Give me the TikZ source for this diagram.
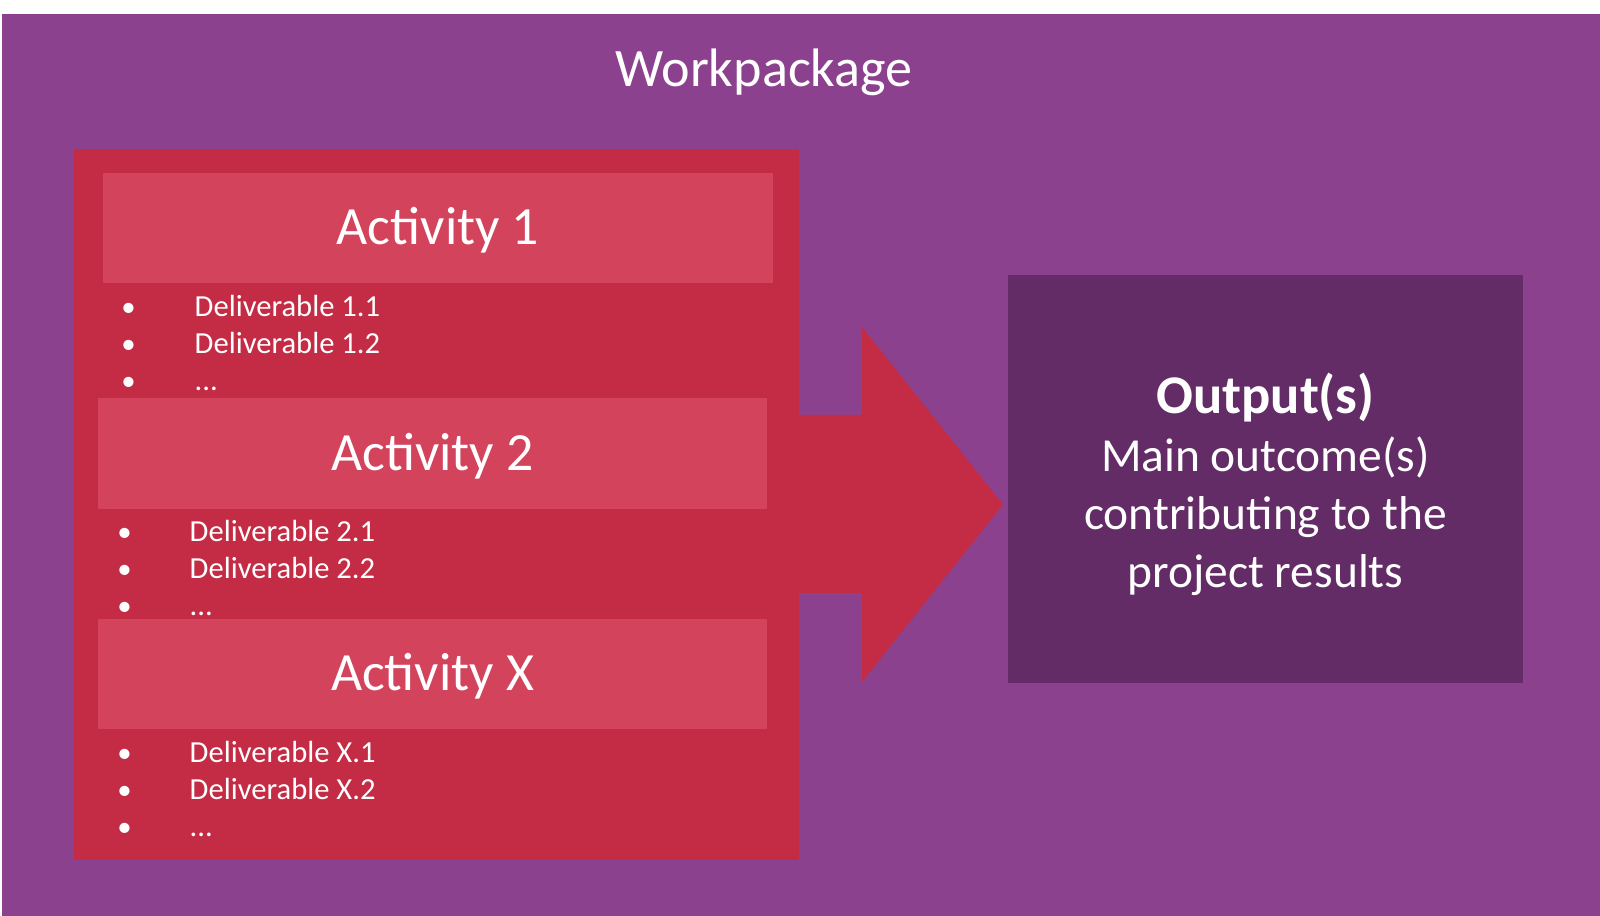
\documentclass[tikz,border=0pt]{standalone}
\usepackage{fontspec}
\setmainfont{Carlito}
\usepackage{tikz}

\definecolor{wpurple}{HTML}{8B418D}
\definecolor{wred}{HTML}{C42C45}
\definecolor{actred}{HTML}{D3435C}
\definecolor{outpurple}{HTML}{632C66}

\begin{document}
\begin{tikzpicture}[
    x=0.01cm, y=-0.01cm, % one unit is one pixel of the drawing, y going down
    panel/.style={inner sep=0pt, outer sep=0pt}, % plain filled rectangles
    actbox/.style={panel, fill=actred, minimum width=6.69cm, minimum height=1.1cm}, % lighter band of an activity
    acttext/.style={text=white, inner sep=0pt, anchor=base, font=\fontsize{15.3}{18}\selectfont},
    dlvtext/.style={text=white, inner sep=0pt, anchor=base west, font=\fontsize{8.7}{10}\selectfont},
    bulletmark/.style={text=white, inner sep=0pt, anchor=base, font=\fontsize{8.2}{10}\selectfont},
    outtext/.style={text=white, align=center, inner sep=0pt, font=\fontsize{13.5}{16.5}\selectfont}
]
\useasboundingbox (0,0) rectangle (1600,916);
\fill[white] (0,0) rectangle (1600,916);
\fill[wpurple] (2,14) rectangle (1600,916); % the workpackage

\node[text=white, inner sep=0pt, anchor=base, font=\fontsize{15.4}{18}\selectfont] (wp) at (764,86.7) {Workpackage};

% activities with their deliverables
\node[panel, fill=wred, minimum width=7.25cm, minimum height=7.11cm] (acts) at (436.5,504.5) {};
\node[actbox] (act1) at (438,228) {};
\node[actbox] (act2) at (432.5,453.5) {};
\node[actbox] (actX) at (432.5,674) {};
\node[acttext] (t1) at (act1.center |- 0,245) {Activity 1};
\node[acttext] (t2) at (act2.center |- 0,471) {Activity 2};
\node[acttext] (tX) at (actX.center |- 0,691) {Activity X};

\foreach \g/\tx/\bx/\y in {1/194/128.6/316.7, 2/189/124.5/541.7, X/189/124.5/762.7} {
    \node[dlvtext] (d\g-1) at (\tx,\y) {Deliverable \g.1};
    \node[dlvtext] (d\g-2) at (\tx,\y+36.7) {Deliverable \g.2};
    \node[dlvtext] (d\g-3) at (\tx,\y+73.4) {...};
    \foreach \k in {1,2,3}
        \node[bulletmark] (b\g-\k) at (\bx,\y+36.7*\k-36.7) {\textbullet};
}

% big arrow towards the output
\fill[wred] (acts.east |- 0,415) -- (862,415) -- (862,327) -- (1003,504.5)
    -- (862,682) -- (862,593) -- (acts.east |- 0,593) -- cycle;

\node[panel, fill=outpurple, minimum width=5.15cm, minimum height=4.08cm] (out) at (1265.5,479) {};
\node[outtext] (outtxt) at (1265.5,484) {{\fontsize{15.5}{16.5}\selectfont\bfseries Output(s)}\\Main outcome(s)\\contributing to the\\project results};
\end{tikzpicture}
\end{document}
